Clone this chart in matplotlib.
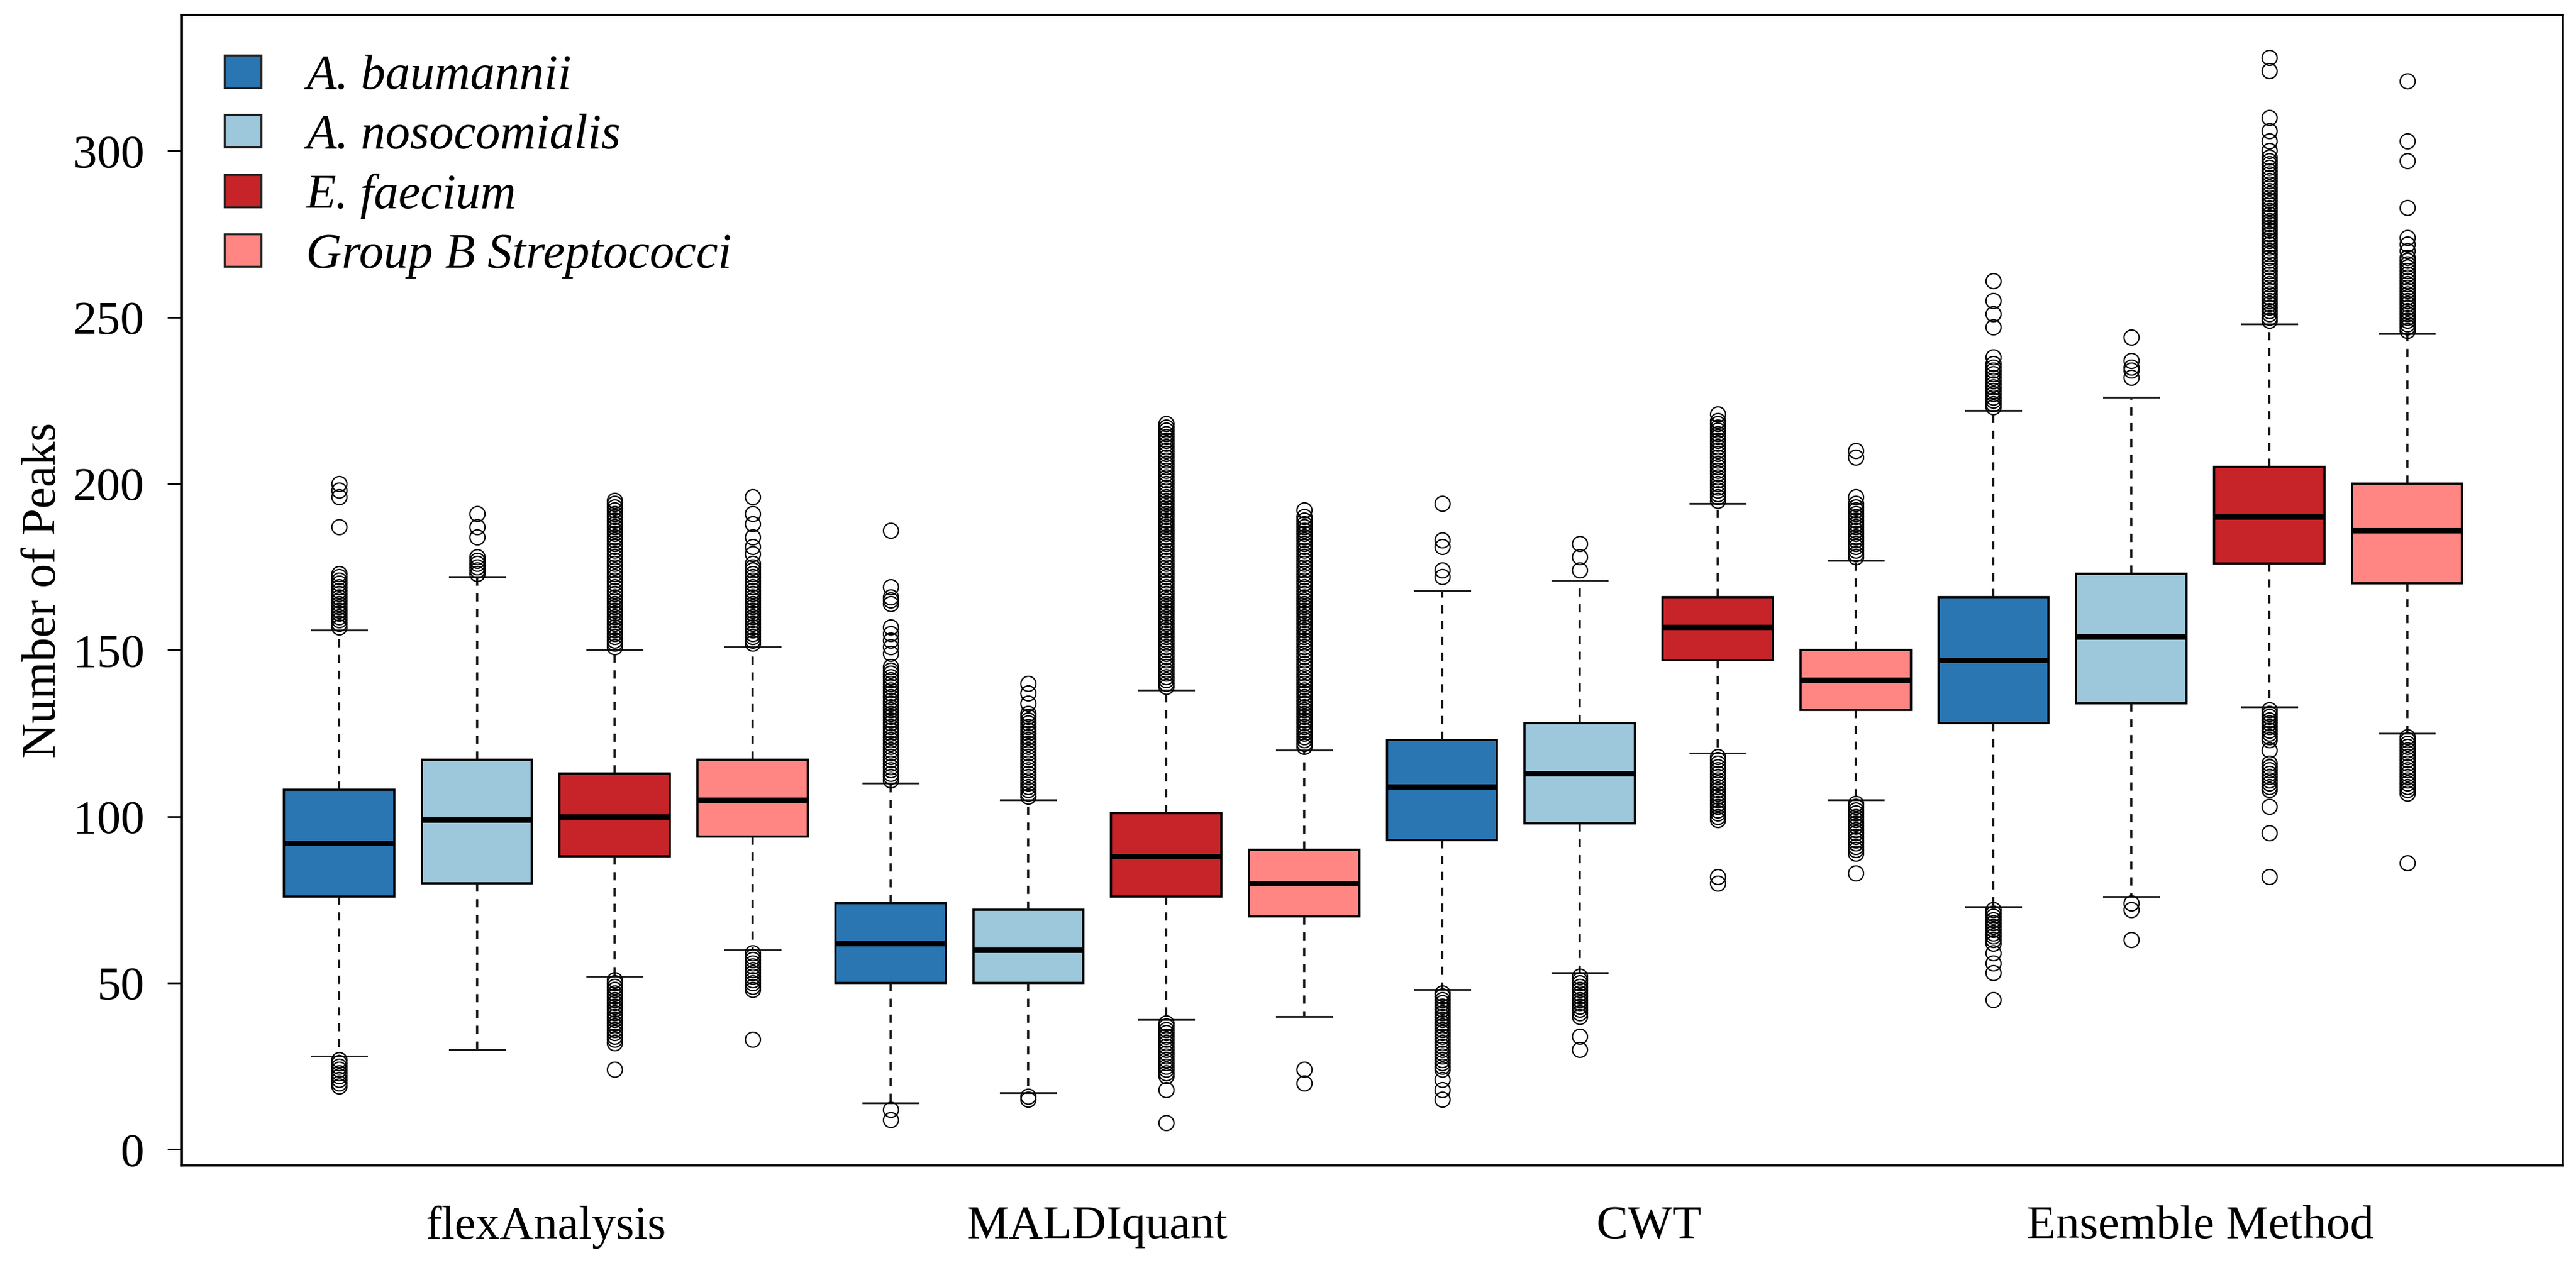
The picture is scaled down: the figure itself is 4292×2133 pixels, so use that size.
import numpy as np
import matplotlib
matplotlib.use("Agg")
from matplotlib import pyplot as plt
from matplotlib.patches import Patch

plt.rcParams['font.family'] = ['Liberation Serif', 'DejaVu Serif']

methods = ['flexAnalysis', 'MALDIquant', 'CWT', 'Ensemble Method']
species = ['A. baumannii', 'A. nosocomialis', 'E. faecium', 'Group B Streptococci']
colors = ['#2a76b2', '#9dc8db', '#c62428', '#ff8682']

# box statistics, ordered method by method, species within method
medians = [92, 99, 100, 105, 62, 60, 88, 80, 109, 113, 157, 141, 147, 154, 190, 186]
q1 = [76, 80, 88, 94, 50, 50, 76, 70, 93, 98, 147, 132, 128, 134, 176, 170]
q3 = [108, 117, 113, 117, 74, 72, 101, 90, 123, 128, 166, 150, 166, 173, 205, 200]
whislo = [28, 30, 52, 60, 14, 17, 39, 40, 48, 53, 119, 105, 73, 76, 133, 125]
whishi = [156, 172, 150, 151, 110, 105, 138, 120, 168, 171, 194, 177, 222, 226, 248, 245]

# outliers
fa_ab_out = [19, 20, 21, 22, 23, 24, 25, 26, 27,
             157, 158, 159, 160, 161, 162, 163, 164, 165, 166, 167, 168, 169, 170,
             171, 172, 173, 187, 196, 198, 200]
fa_an_out = [173, 174, 175, 176, 177, 178, 184, 187, 191]
fa_ef_out = [24, 32, 33, 34, 35, 36, 37, 38, 39, 40, 41, 42, 43, 44, 45, 46, 47, 48,
             49, 50, 51,
             151, 152, 153, 154, 155, 156, 157, 158, 159, 160, 161, 162, 163, 164,
             165, 166, 167, 168, 169, 170, 171, 172, 173, 174, 175, 176, 177, 178,
             179, 180, 181, 182, 183, 184, 185, 186, 187, 188, 189, 190, 191, 192,
             193, 194, 195]
fa_gbs_out = [33, 48, 49, 50, 51, 52, 53, 54, 55, 56, 57, 58, 59,
              152, 153, 154, 155, 156, 157, 158, 159, 160, 161, 162, 163, 164, 165,
              166, 167, 168, 169, 170, 171, 172, 173, 174, 175, 176, 179, 181, 184,
              188, 191, 196]

mq_ab_out = [9, 12,
             111, 112, 113, 114, 115, 116, 117, 118, 119, 120, 121, 122, 123, 124,
             125, 126, 127, 128, 129, 130, 131, 132, 133, 134, 135, 136, 137, 138,
             139, 140, 141, 142, 143, 144, 145, 149, 151, 153, 155, 157, 164, 165,
             166, 169, 186]
mq_an_out = [15, 16,
             106, 107, 108, 109, 110, 111, 112, 113, 114, 115, 116, 117, 118, 119,
             120, 121, 122, 123, 124, 125, 126, 127, 128, 129, 130, 131, 134, 137, 140]
mq_ef_out = [8, 18, 22, 23, 24, 25, 26, 27, 28, 29, 30, 31, 32, 33, 34, 35, 36, 37, 38,
             139, 140, 141, 142, 143, 144, 145, 146, 147, 148, 149, 150, 151, 152,
             153, 154, 155, 156, 157, 158, 159, 160, 161, 162, 163, 164, 165, 166,
             167, 168, 169, 170, 171, 172, 173, 174, 175, 176, 177, 178, 179, 180,
             181, 182, 183, 184, 185, 186, 187, 188, 189, 190, 191, 192, 193, 194,
             195, 196, 197, 198, 199, 200, 201, 202, 203, 204, 205, 206, 207, 208,
             209, 210, 211, 212, 213, 214, 215, 216, 217, 218]
mq_gbs_out = [20, 24,
              121, 122, 123, 124, 125, 126, 127, 128, 129, 130, 131, 132, 133, 134,
              135, 136, 137, 138, 139, 140, 141, 142, 143, 144, 145, 146, 147, 148,
              149, 150, 151, 152, 153, 154, 155, 156, 157, 158, 159, 160, 161, 162,
              163, 164, 165, 166, 167, 168, 169, 170, 171, 172, 173, 174, 175, 176,
              177, 178, 179, 180, 181, 182, 183, 184, 185, 186, 187, 188, 189, 190,
              192]

cwt_ab_out = [15, 18, 21, 24, 25, 26, 27, 28, 29, 30, 31, 32, 33, 34, 35, 36, 37, 38,
              39, 40, 41, 42, 43, 44, 45, 46, 47, 172, 174, 181, 183, 194]
cwt_an_out = [30, 34, 40, 41, 42, 43, 44, 45, 46, 47, 48, 49, 50, 51, 52, 174, 178, 182]
cwt_ef_out = [80, 82, 99, 100, 101, 102, 103, 104, 105, 106, 107, 108, 109, 110, 111,
              112, 113, 114, 115, 116, 117, 118,
              195, 196, 197, 198, 199, 200, 201, 202, 203, 204, 205, 206, 207, 208,
              209, 210, 211, 212, 213, 214, 215, 216, 217, 218, 219, 221]
cwt_gbs_out = [83, 89, 90, 91, 92, 93, 94, 95, 96, 97, 98, 99, 100, 101, 102, 103, 104,
               178, 179, 180, 181, 182, 183, 184, 185, 186, 187, 188, 189, 190, 191,
               192, 193, 194, 196, 208, 210]

ens_ab_out = [45, 53, 56, 59, 62, 63, 64, 65, 66, 67, 68, 69, 70, 71, 72,
              223, 224, 225, 226, 227, 228, 229, 230, 231, 232, 233, 234, 235, 236,
              238, 247, 251, 255, 261]
ens_an_out = [63, 72, 74, 232, 234, 235, 237, 244]
ens_ef_out = [82, 95, 103, 108, 109, 110, 111, 112, 113, 114, 115, 116, 120,
              123, 124, 125, 126, 127, 128, 129, 130, 131, 132,
              249, 250, 251, 252, 253, 254, 255, 256, 257, 258, 259, 260, 261, 262,
              263, 264, 265, 266, 267, 268, 269, 270, 271, 272, 273, 274, 275, 276,
              277, 278, 279, 280, 281, 282, 283, 284, 285, 286, 287, 288, 289, 290,
              291, 292, 293, 294, 295, 296, 297, 298, 300, 303, 306, 310, 324, 328]
ens_gbs_out = [86, 107, 108, 109, 110, 111, 112, 113, 114, 115, 116, 117, 118, 119,
               120, 121, 122, 123, 124,
               246, 247, 248, 249, 250, 251, 252, 253, 254, 255, 256, 257, 258, 259,
               260, 261, 262, 263, 264, 265, 266, 267, 268, 270, 272, 274, 283, 297,
               303, 321]

outliers = [fa_ab_out, fa_an_out, fa_ef_out, fa_gbs_out,
            mq_ab_out, mq_an_out, mq_ef_out, mq_gbs_out,
            cwt_ab_out, cwt_an_out, cwt_ef_out, cwt_gbs_out,
            ens_ab_out, ens_an_out, ens_ef_out, ens_gbs_out]

n = len(medians)
positions = np.arange(1, n + 1)
stats = []
for i in range(n):
    stats.append(dict(med=medians[i], q1=q1[i], q3=q3[i], whislo=whislo[i],
                      whishi=whishi[i], fliers=outliers[i]))

fig = plt.figure(figsize=(42.92, 21.33), dpi=100)
ax = fig.add_axes([0.0706, 0.0895, 0.9243, 0.8988])

bp = ax.bxp(stats, positions=positions, widths=0.8, capwidths=0.4,
            patch_artist=True, showfliers=True,
            boxprops=dict(edgecolor='black', linewidth=2.6),
            medianprops=dict(color='black', linewidth=6.5, solid_capstyle='butt'),
            whiskerprops=dict(color='#111111', linewidth=2.6, linestyle=(0, (3.8, 3.5))),
            capprops=dict(color='#222222', linewidth=2.2),
            flierprops=dict(marker='o', markersize=18, markerfacecolor='none',
                            markeredgecolor='black', markeredgewidth=1.6))
for i, b in enumerate(bp['boxes']):
    b.set_facecolor(colors[i % 4])

# y range like R: data range padded by 4%
all_vals = np.concatenate([np.array(o, dtype=float) for o in outliers] + [whislo, whishi])
lo, hi = all_vals.min(), all_vals.max()
pad = 0.04 * (hi - lo)
ax.set_ylim(lo - pad, hi + pad)
ax.set_xlim(-0.14, n + 1.13)

ax.set_yticks([0, 50, 100, 150, 200, 250, 300])
ax.tick_params(axis='y', labelsize=57, length=17, width=2, pad=28)
group_pos = [positions[4 * k:4 * k + 4].mean() for k in range(4)]
ax.set_xticks(group_pos)
ax.set_xticklabels(methods)
ax.tick_params(axis='x', labelsize=57, length=0, pad=48)
ax.set_ylabel('Number of Peaks', fontsize=58)
ax.yaxis.set_label_coords(-0.049, 0.5)

for s in ax.spines.values():
    s.set_linewidth(2.6)

handles = [Patch(facecolor=c, edgecolor='#222222', linewidth=2.5) for c in colors]
ax.legend(handles, species, loc='upper left', bbox_to_anchor=(0.018, 0.966),
          frameon=False, borderpad=0, borderaxespad=0,
          prop={'style': 'italic', 'size': 59},
          handlelength=0.74, handleheight=0.65, handletextpad=0.92, labelspacing=0.29)

fig.savefig('out.png', dpi=100)
